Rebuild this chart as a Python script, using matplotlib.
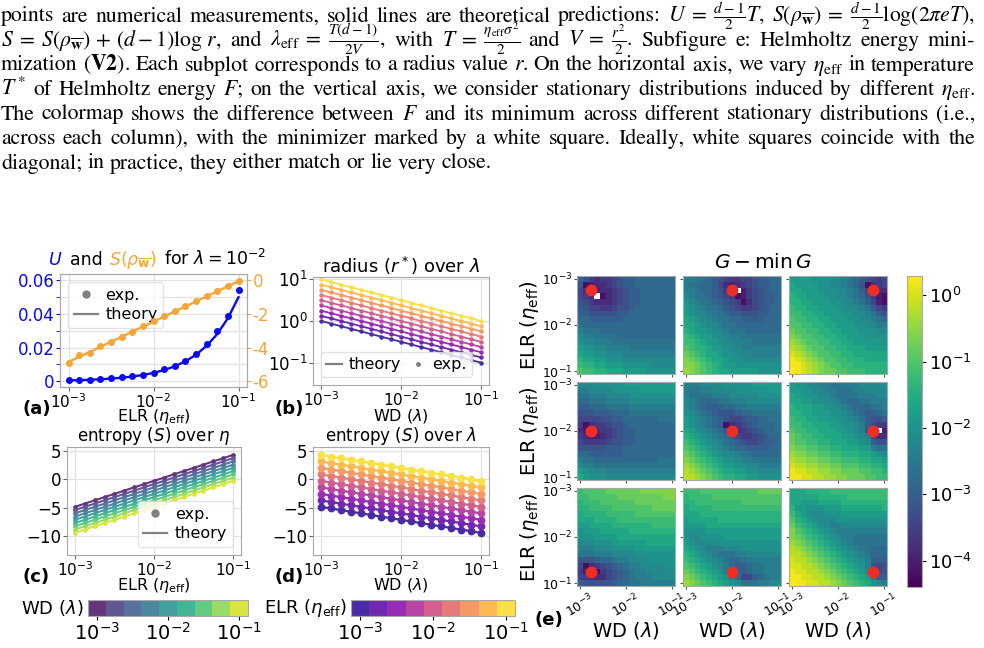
import numpy as np
import matplotlib.pyplot as plt
from matplotlib.colors import LogNorm, ListedColormap
from matplotlib.lines import Line2D
from matplotlib.offsetbox import TextArea, HPacker, AnchoredOffsetbox
from matplotlib.ticker import NullLocator

W, H = 984, 648

# sweep grids (17 log-spaced values from 1e-3 to 1e-1)
lr = np.logspace(-3, -1, 17)
wd = np.logspace(-3, -1, 17)

# (a) U and S(rho) at lambda = 1e-2
u_exp = [0.0006, 0.0006, 0.0008, 0.0014, 0.0020, 0.0024, 0.0030, 0.0038, 0.0052,
         0.0072, 0.0092, 0.0120, 0.0161, 0.0219, 0.0297, 0.0388, 0.0540]
u_theory = [0.0005, 0.00067, 0.00089, 0.00119, 0.00158, 0.00211, 0.00282, 0.00376, 0.0050,
            0.00667, 0.0089, 0.01186, 0.0158, 0.0211, 0.0281, 0.0375, 0.0500]
s_exp = [-4.90, -4.44, -4.30, -3.90, -3.65, -3.35, -3.05, -2.71, -2.39,
         -2.11, -1.81, -1.51, -1.25, -0.92, -0.66, -0.36, -0.04]
s_theory = [-4.85, -4.55, -4.25, -3.95, -3.65, -3.35, -3.05, -2.75, -2.45,
            -2.15, -1.85, -1.55, -1.25, -0.95, -0.65, -0.35, -0.05]

# (b) radius over WD, one row per ELR value
radius = [
    [1.0, .866, .750, .649, .562, .487, .422, .365, .316, .274, .237, .205, .178, .154, .133, .115, .100],
    [1.334, 1.155, 1.0, .866, .750, .649, .562, .487, .422, .365, .316, .274, .237, .205, .178, .154, .133],
    [1.778, 1.540, 1.334, 1.155, 1.0, .866, .750, .649, .562, .487, .422, .365, .316, .274, .237, .205, .178],
    [2.371, 2.054, 1.778, 1.540, 1.334, 1.155, 1.0, .866, .750, .649, .562, .487, .422, .365, .316, .274, .237],
    [3.162, 2.738, 2.371, 2.054, 1.778, 1.540, 1.334, 1.155, 1.0, .866, .750, .649, .562, .487, .422, .365, .316],
    [4.217, 3.652, 3.162, 2.738, 2.371, 2.054, 1.778, 1.540, 1.334, 1.155, 1.0, .866, .750, .649, .562, .487, .422],
    [5.623, 4.870, 4.217, 3.652, 3.162, 2.738, 2.371, 2.054, 1.778, 1.540, 1.334, 1.155, 1.0, .866, .750, .649, .562],
    [7.499, 6.494, 5.623, 4.870, 4.217, 3.652, 3.162, 2.738, 2.371, 2.054, 1.778, 1.540, 1.334, 1.155, 1.0, .866, .750],
    [10.0, 8.660, 7.499, 6.494, 5.623, 4.870, 4.217, 3.652, 3.162, 2.738, 2.371, 2.054, 1.778, 1.540, 1.334, 1.155, 1.0],
]

# (c) entropy over ELR, one row per WD value
entropy_eta = [
    [-4.86, -4.28, -3.71, -3.13, -2.56, -1.98, -1.41, -0.83, -0.25, 0.32, 0.90, 1.47, 2.05, 2.62, 3.20, 3.77, 4.35],
    [-5.43, -4.85, -4.28, -3.70, -3.13, -2.55, -1.98, -1.40, -0.82, -0.25, 0.33, 0.90, 1.48, 2.05, 2.63, 3.20, 3.78],
    [-6.01, -5.43, -4.86, -4.28, -3.71, -3.13, -2.56, -1.98, -1.40, -0.83, -0.25, 0.32, 0.90, 1.47, 2.05, 2.62, 3.20],
    [-6.59, -6.01, -5.44, -4.86, -4.29, -3.71, -3.14, -2.56, -1.98, -1.41, -0.83, -0.26, 0.32, 0.89, 1.47, 2.04, 2.62],
    [-7.16, -6.58, -6.01, -5.43, -4.86, -4.28, -3.71, -3.13, -2.55, -1.98, -1.40, -0.83, -0.25, 0.32, 0.90, 1.47, 2.05],
    [-7.74, -7.16, -6.59, -6.01, -5.44, -4.86, -4.29, -3.71, -3.13, -2.56, -1.98, -1.41, -0.83, -0.26, 0.32, 0.89, 1.47],
    [-8.31, -7.73, -7.16, -6.58, -6.01, -5.43, -4.86, -4.28, -3.70, -3.13, -2.55, -1.98, -1.40, -0.83, -0.25, 0.32, 0.90],
    [-8.89, -8.31, -7.74, -7.16, -6.59, -6.01, -5.44, -4.86, -4.28, -3.71, -3.13, -2.56, -1.98, -1.41, -0.83, -0.26, 0.32],
    [-9.46, -8.88, -8.31, -7.73, -7.16, -6.58, -6.01, -5.43, -4.85, -4.28, -3.70, -3.13, -2.55, -1.98, -1.40, -0.83, -0.25],
]

# (d) entropy over WD, one row per ELR value
entropy_wd = [
    [-4.86, -5.15, -5.44, -5.72, -6.01, -6.30, -6.59, -6.87, -7.16, -7.45, -7.74, -8.03, -8.31, -8.60, -8.89, -9.18, -9.47],
    [-3.71, -4.00, -4.29, -4.57, -4.86, -5.15, -5.44, -5.72, -6.01, -6.30, -6.59, -6.88, -7.16, -7.45, -7.74, -8.03, -8.32],
    [-2.56, -2.85, -3.14, -3.42, -3.71, -4.00, -4.29, -4.57, -4.86, -5.15, -5.44, -5.73, -6.01, -6.30, -6.59, -6.88, -7.17],
    [-1.40, -1.69, -1.98, -2.26, -2.55, -2.84, -3.13, -3.41, -3.70, -3.99, -4.28, -4.57, -4.85, -5.14, -5.43, -5.72, -6.01],
    [-0.25, -0.54, -0.83, -1.11, -1.40, -1.69, -1.98, -2.26, -2.55, -2.84, -3.13, -3.42, -3.70, -3.99, -4.28, -4.57, -4.86],
    [0.90, 0.61, 0.32, 0.04, -0.25, -0.54, -0.83, -1.11, -1.40, -1.69, -1.98, -2.27, -2.55, -2.84, -3.13, -3.42, -3.71],
    [2.05, 1.76, 1.47, 1.19, 0.90, 0.61, 0.32, 0.04, -0.25, -0.54, -0.83, -1.12, -1.40, -1.69, -1.98, -2.27, -2.56],
    [3.20, 2.91, 2.62, 2.34, 2.05, 1.76, 1.47, 1.19, 0.90, 0.61, 0.32, 0.03, -0.25, -0.54, -0.83, -1.12, -1.41],
    [4.35, 4.06, 3.77, 3.49, 3.20, 2.91, 2.62, 2.34, 2.05, 1.76, 1.47, 1.18, 0.90, 0.61, 0.32, 0.03, -0.26],
]

# (e) G - min G heatmaps, read cell by cell. letter a..y = log10 value -4.4 .. +0.4
# in steps of 0.2, '.' = exactly zero (the minimiser, drawn white)
LEVELS = "abcdefghijklmnopqrstuvwxy"
e11 = ["hgedeefghhiiiiiii", "gbcddefghhiiiiiii", "fdccddefghhiiiiii", "fed.bdefghhiiiiii",
       "gfedddefghhiiiiii", "hgffeefgghiiiiiii", "hhggggghhiiiiiiii", "iihhhhhhiiiiiiiii",
       "jiiiiiiiiiiiiiiii", "kjjjiiiiiiiiiiiii", "lkkjjjjiiiiiiiiii", "mllkkkjjjjjjjjjjj",
       "nmmllkkkkjjjjjjjj", "onnmmlllkkkkkkkkk", "poonnmmmlllllllll", "qppoonnnmmmmmllll",
       "rqqppooonnnnmmmmm"]
e12 = ["kkjjihgfeeffghhii", "kjjiihfdcdefghhii", "kkjiihged.cefghii", "lkjjihgfebcefghhi",
       "mlkjjihgfebdfghhi", "nmlkjjihgfeefghii", "nmllkjjihhggghhii", "onmllkjjiihhhhiii",
       "oonmllkjjiiiiiiii", "ponnmllkjjjiiiiii", "qponnmllkkjjjjjjj", "qqponnmllkkkjjjjj",
       "rqpponnmllkkkkkkk", "srqpoonmmlllkkkkk", "tsrqpoonmmlllllll", "ttsrqponnmmmmmmmm",
       "utsrqpoonnnnnmmmm"]
e13 = ["nnnnmmmllkjihgfef", "onnnnmmllkjigbdef", "oonnnmmmllkjhf.dd", "poonnnmmllkjigecb",
       "ppoonnnmmllkjhfcb", "qppoonnnmmllkjhfe", "qqppoonnnmmllkjhg", "rqqppoonnnmmllkji",
       "rrqqppoonnnmmllkk", "srrqqppoonnnmmmll", "tsrrqqppoonnnmmmm", "utsrrqqppoonnnnnm",
       "vutsrrqqppooonnnn", "wvutsrrqqppoooooo", "xwvutsrrqqpppoooo", "xxwvutsrrqqpppppp",
       "yxwvutssrrqqqpppp"]
e21 = ["lllmmmmmnnnnnnnnn", "kkllllmmmmmnnnnnn", "jjkkkllllmmmmmmmm", "iijjjkkkkllllllll",
       "hhiiijjjjkkkkkkkk", "ggghhhiiijjjjjjjj", "ffffgghhiiiiiijjj", "ebdeefgghiiiiiiii",
       "dc.deefghhiiiiiii", "edccdefghhiiiiiii", "feeeefgghhiiiiiii", "ggggghhhiiiiiiiii",
       "iihhhhhhiiiiiiiii", "kjjiiiiiiiiiiijjj", "lkkjjjjjjjjjjjjjj", "nmlllkkkkkkkkkkkk",
       "onmmmllllllllllll"]
e22 = ["kkkllllmmmmmnnnnn", "kjjkkllllmmmmmmnn", "kjjjjkkklllllmmmm", "lkjiiijjkkkllllll",
       "lkjihhhiijjkkkkkk", "mlkjihggghiijjjjj", "nmlkjihgffghhiijj", "nmlkjihbdefghiiij",
       "onmlkjig.defghiij", "ponmlkjihfeefghii", "qponmlkjihgffghhi", "rqponmlkjiihhhhii",
       "srqponmllkjjiiiii", "tsrqponmmlkkjjjjj", "utsrqponnmmllkkkk", "vutsrqpoonnmmllll",
       "vvutsrqppoonnmmmm"]
e23 = ["nmmllkkjjkkkllllm", "nnmmllkkjjjkkllll", "onnmmllkjjjjkkkll", "oonnmmllkjiijjkkk",
       "pooonnmmlkjiiijjk", "ppoonnnmmlkjihhij", "qppoonnnmmlkjhggh", "qqppooonnmmlkhfee",
       "rqqppooonnmlkgd.c", "srqqppooonnmlkfdd", "srrqqppooonnmlhgg", "tssrrqqppooonnkjj",
       "uttssrrqqpppoonml", "vuuttssrrqqqppoon", "wvvuuttssrrrqqppo", "xwwvvuuttsssrrqqp",
       "xxwwvvuuttsssrrqq"]
e31 = ["qrrrrsssssstttttt", "qqrrrrrsssssssstt", "pqqqrrrrrrsssssss", "ppqqqqrrrrrrrssss",
       "oppppqqqqqrrrrrrr", "oooppppqqqqqqqqqq", "nnoooopppppppqqqq", "mnnnooooopppppppp",
       "mmmnnnnoooooooooo", "lllmmmnnnnnnooooo", "kkklllmmmmnnnnnnn", "jjjkkkllllmmmmmmm",
       "ggghiijkklllmmmmm", "fbdefghijkkllllmm", "ec.befghijkklllll", "fedddfghijkkkllll",
       "hggggghiijjkkkkkk"]
e32 = ["qqqrrrrrrrrrrssss", "pqqqqrrrrrrrrrrrr", "ppqqqqqqqqrrrrrrr", "oppppqqqqqqqqqqqq",
       "ooopppppppppppppp", "noooooppppppppppp", "nnnnooooooooooooo", "mmmmnnnnnnnnnnnnn",
       "mllmmmmnnnnnnnnnn", "nmllllmmmmmmmmmmm", "onmlkkklllmmmmmmm", "ponmlkjjjkkllllll",
       "qponmlkjiijjkkkkk", "rqponmlkihhijjkkk", "srqponmk.hhijjkkk", "tsrqponmkiffhijkk",
       "utsrqponmljjjkkll"]
e33 = ["oooppppqqqqqqqqqq", "ooooopppppqqqqqqq", "oonnnoooopppppppp", "pnnmmmnnnooooooop",
       "qonmllmmmnnnnnnnn", "rponmlllmmmmmmmmm", "sqponmlkkllllllll", "trqponmlkkkkkkkkk",
       "tsrqponmlkkjjjjjj", "utsrqponmlkjjjjjj", "vutsrqponmlkjjiii", "vvutsrqponmlkjiii",
       "wvvutsrqponmlkhhh", "wwvvutsrqponmkgfg", "xwwvvutsrqponl.fg", "xxwwvvutsrqponkhh",
       "yxxwwvvutsrqpomlk"]
heatmaps = [[e11, e12, e13], [e21, e22, e23], [e31, e32, e33]]
dot_idx = [2, 8, 14]   # red markers: grid index per panel row / column

caption = [
    r"points are numerical measurements, solid lines are theoretical predictions: $U\;=\;\frac{d-1}{2}T$, $S(\rho_{\overline{\mathbf{w}}})\;=\;\frac{d-1}{2}\log(2{\pi}eT)$,",
    r"$S\;=\;S(\rho_{\overline{\mathbf{w}}})\,+\,(d-1)\log\,r$, and $\lambda_{\mathrm{eff}}\;=\;\frac{T(d-1)}{2V}$, with $T\;=\;\frac{\eta_{\mathrm{eff}}\sigma^2}{2}$ and $V\;=\;\frac{r^2}{2}$. Subfigure e: Helmholtz energy mini-",
    r"mization ($\mathbf{V2}$). Each subplot corresponds to a radius value $r$. On the horizontal axis, we vary $\eta_{\mathrm{eff}}$ in temperature",
    r"$T^*$ of Helmholtz energy $F$; on the vertical axis, we consider stationary distributions induced by different $\eta_{\mathrm{eff}}$.",
    r"The colormap shows the difference between $F$ and its minimum across different stationary distributions (i.e.,",
    r"across each column), with the minimizer marked by a white square. Ideally, white squares coincide with the",
    r"diagonal; in practice, they either match or lie very close.",
]

BLUE = '#0a0af0'
ORANGE = '#f4a637'
GRID = '#e2e2e2'
SPINE = '#a8a8a8'
TICK = 12
LAB = 11.5


def decode(rows):
    out = np.zeros((17, 17))
    for i, row in enumerate(rows):
        row = (row + row[-1] * 17)[:17]
        for j, ch in enumerate(row):
            out[i, j] = 0.0 if ch == '.' else 10 ** (-4.4 + 0.2 * LEVELS.index(ch))
    return np.ma.masked_less_equal(out, 0)


def soft(cmap_name, n=9, lo=0.05, hi=0.93, a=0.85):
    c = plt.get_cmap(cmap_name)(np.linspace(lo, hi, n))[:, :3]
    return a * c + (1 - a)


fig = plt.figure(figsize=(W / 100, H / 100), dpi=100)


def place(x0, y0, x1, y1):
    return fig.add_axes([x0 / W, 1 - y1 / H, (x1 - x0) / W, (y1 - y0) / H])


def style(ax):
    ax.set_xscale('log')
    ax.xaxis.set_minor_locator(NullLocator())
    ax.grid(True, color=GRID, lw=0.9)
    ax.set_axisbelow(True)
    for s in ax.spines.values():
        s.set_color(SPINE)
    ax.tick_params(labelsize=TICK, length=3, color='#666666', pad=1)
    ax.tick_params(axis='x', labelsize=11, pad=0.5)
    ax.set_xticks([1e-3, 1e-2, 1e-1])


def xlabel_at(ax, text, top_px, y0, y1):
    # put the x label so that its top sits at a given pixel row
    ax.set_xlabel(text, fontsize=LAB)
    ax.xaxis.set_label_coords(0.5, (y1 - top_px) / (y1 - y0))


grey_dot = Line2D([], [], marker='o', ls='', color='grey', ms=5, label='exp.')
grey_line = Line2D([], [], color='grey', lw=1.6, label='theory')

# ---------- (a) ----------
ax = place(60, 274, 247, 387)
style(ax)
ax.plot(lr, u_theory, color=BLUE, lw=1.7)
ax.plot(lr, u_exp, 'o', color=BLUE, ms=4)
ax.set_ylim(-0.0034, 0.0638)
ax.set_yticks([0, 0.02, 0.04, 0.06])
ax.set_yticklabels(['0', '0.02', '0.04', '0.06'])
ax.set_yticks([0.01, 0.03, 0.05], minor=True)
ax.grid(True, which='minor', axis='y', color=GRID, lw=0.9)
ax.tick_params(axis='y', which='both', colors=BLUE, length=3)
xlabel_at(ax, r'ELR ($\eta_{\mathrm{eff}}$)', 407, 274, 387)
ax2 = ax.twinx()
ax2.plot(lr, s_theory, color=ORANGE, lw=1.7)
ax2.plot(lr, s_exp, 'o', color=ORANGE, ms=4)
ax2.set_ylim(-6.34, 0.38)
ax2.set_yticks([0, -2, -4, -6])
ax2.set_yticklabels(['0', '-2', '-4', '-6'])
ax2.tick_params(axis='y', colors=ORANGE, labelsize=TICK, length=3, pad=1)
for s in ax2.spines.values():
    s.set_color(SPINE)
ax.legend(handles=[grey_dot, grey_line], loc='upper left', fontsize=11.5,
          handlelength=1.5, borderpad=0.35, labelspacing=0.3, handletextpad=0.5,
          framealpha=0.8, edgecolor='#dddddd')
parts = [('$U$', BLUE), ('and', 'black'), (r'$S(\rho_{\overline{\mathbf{w}}})$', ORANGE),
         (r'for $\lambda=10^{-2}$', 'black')]
pack = HPacker(children=[TextArea(t, textprops=dict(color=c, fontsize=12.5)) for t, c in parts],
               align='baseline', pad=0, sep=5)
ax2.add_artist(AnchoredOffsetbox(loc='lower center', child=pack, frameon=False, pad=0,
                                 borderpad=0, bbox_to_anchor=(0.52, 1.03),
                                 bbox_transform=ax.transAxes))

# ---------- (b) ----------
plasma9 = soft('plasma')
viridis9 = soft('viridis')
ax = place(313, 277, 489, 385)
style(ax)
ax.set_yscale('log')
ax.yaxis.set_minor_locator(NullLocator())
for k in range(9):
    ax.plot(wd, radius[k], color=plasma9[k], lw=1.3, marker='o', ms=2.2)
ax.set_ylim(0.029, 11.4)
ax.set_yticks([0.1, 1, 10])
ax.set_title(r'radius ($r^*$) over $\lambda$', fontsize=13, pad=2)
xlabel_at(ax, r'WD ($\lambda$)', 407, 277, 385)
ax.legend(handles=[grey_line, Line2D([], [], marker='o', ls='', color='grey', ms=2.5, label='exp.')],
          loc='lower left', ncol=2, fontsize=11.5, handlelength=1.0, columnspacing=0.6,
          borderpad=0.3, handletextpad=0.4, framealpha=0.8, edgecolor='#dddddd')

# ---------- (c) ----------
ax = place(67, 447, 241, 555)
style(ax)
for k in range(9):
    ax.plot(lr, entropy_eta[k], color=viridis9[k], lw=1.5, marker='o', ms=2.4)
ax.set_ylim(-13.4, 5.76)
ax.set_yticks([5, 0, -5, -10])
ax.set_title(r'entropy ($S$) over $\eta$', fontsize=12, pad=1.5)
xlabel_at(ax, r'ELR ($\eta_{\mathrm{eff}}$)', 576, 447, 555)
ax.legend(handles=[grey_dot, grey_line], loc='lower right', fontsize=11.5,
          handlelength=1.5, borderpad=0.35, labelspacing=0.3, handletextpad=0.5,
          framealpha=0.8, edgecolor='#dddddd')

# ---------- (d) ----------
ax = place(313, 447, 489, 555)
style(ax)
for k in range(9):
    ax.plot(wd, entropy_wd[k], color=plasma9[k], lw=1.6, marker='o', ms=4.6)
ax.set_ylim(-13.4, 5.76)
ax.set_yticks([5, 0, -5, -10])
ax.set_title(r'entropy ($S$) over $\lambda$', fontsize=12, pad=1.5)
xlabel_at(ax, r'WD ($\lambda$)', 576, 447, 555)

# ---------- discrete colorbars under (c) and (d) ----------
for (x0, x1, cols, label, lx) in [(88, 248, viridis9, r'WD ($\lambda$)', 84),
                                  (351, 515, plasma9, r'ELR ($\eta_{\mathrm{eff}}$)', 347)]:
    cax = place(x0, 600, x1, 616)
    sm = plt.cm.ScalarMappable(norm=LogNorm(10 ** -3.125, 10 ** -0.875), cmap=ListedColormap(cols))
    cb = fig.colorbar(sm, cax=cax, orientation='horizontal')
    cb.set_ticks([1e-3, 1e-2, 1e-1])
    cax.xaxis.set_minor_locator(NullLocator())
    cax.tick_params(labelsize=14, length=3, pad=1)
    cb.outline.set_edgecolor(SPINE)
    fig.text(lx / W, 1 - 608 / H, label, fontsize=13, ha='right', va='center')

# ---------- (e) heatmaps ----------
cmap = plt.get_cmap('viridis').copy()
cmap.set_bad('white')
norm = LogNorm(4e-5, 1.95)
xs = [577, 683, 789]
ys = [276, 382, 488]
tick_lab = ['$10^{-3}$', '$10^{-2}$', '$10^{-1}$']
for r in range(3):
    for c in range(3):
        ax = place(xs[c], ys[r], xs[c] + 98, ys[r] + 98)
        im = ax.imshow(decode(heatmaps[r][c]), cmap=cmap, norm=norm,
                       interpolation='nearest', aspect='auto')
        ax.plot(dot_idx[c], dot_idx[r], 'o', color='#ee2e24', ms=7.5)
        ax.set_xlim(-0.5, 16.5)
        ax.set_ylim(16.5, -0.5)
        ax.set_xticks([0, 8, 16])
        ax.set_yticks([0, 8, 16])
        ax.tick_params(length=2.5, labelsize=9, pad=1, color='#555555')
        for s in ax.spines.values():
            s.set_color(SPINE)
        if c == 0:
            ax.set_yticklabels(tick_lab)
            ax.set_ylabel(r'ELR ($\eta_{\mathrm{eff}}$)', fontsize=14, labelpad=1)
        else:
            ax.set_yticklabels([])
        if r == 2:
            ax.set_xticklabels(tick_lab, rotation=30, ha='center')
            ax.set_xlabel(r'WD ($\lambda$)', fontsize=14, labelpad=0)
        else:
            ax.set_xticklabels([])
cax = place(907, 276, 922, 587)
cb = fig.colorbar(im, cax=cax)
cb.set_ticks([1, 1e-1, 1e-2, 1e-3, 1e-4])
cax.yaxis.set_minor_locator(NullLocator())
cax.tick_params(labelsize=13, length=3, pad=2)
cb.outline.set_edgecolor(SPINE)
fig.text(763 / W, 1 - 263 / H, r'$G-\min\,G$', fontsize=14.5, ha='center', va='center')

# panel letters
for lab, x, y in [('(a)', 22, 409), ('(b)', 275, 409), ('(c)', 22, 577),
                  ('(d)', 275, 577), ('(e)', 535, 620)]:
    fig.text(x / W, 1 - y / H, lab, fontsize=13, fontweight='bold', va='center')

# ---------- caption text, justified ----------
renderer = fig.canvas.get_renderer()
lines = []
for line in caption:
    lines.append([fig.text(0, 0, w, fontsize=14, family='STIXGeneral', math_fontfamily='stix',
                           va='baseline') for w in line.split(' ')])


def widths(objs):
    return [o.get_window_extent(renderer).width for o in objs]


space = 0.25 * 14 * 100 / 72
widest = max(sum(widths(o)) + (len(o) - 1) * space for o in lines[:6])
fs = 14 * 974 / widest
space = 0.25 * fs * 100 / 72
for k, objs in enumerate(lines):
    for o in objs:
        o.set_fontsize(fs)
    ws = widths(objs)
    gap = (974 - sum(ws)) / (len(objs) - 1) if k < 6 else space
    x = 1
    y = 21.5 + 24.5 * k
    for o, w in zip(objs, ws):
        o.set_position((x / W, 1 - y / H))
        x += w + gap

fig.savefig('out.png', dpi=100)
